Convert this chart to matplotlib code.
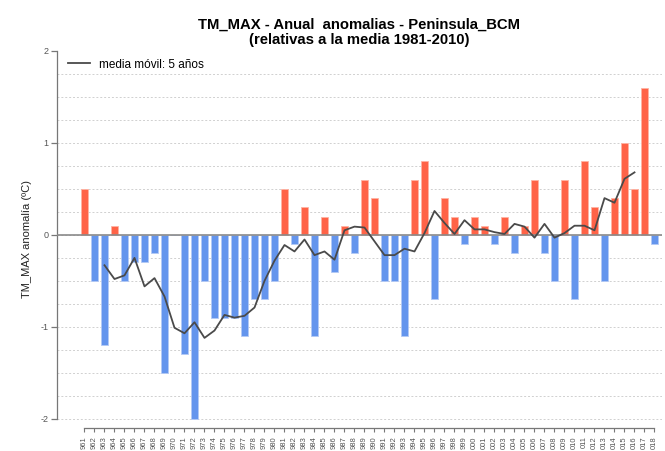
import matplotlib

matplotlib.use("Agg")
import matplotlib.pyplot as plt

# datos: anomalías anuales de TM_MAX (ºC) y media móvil de 5 años
years = list(range(1961, 2019))
anomalias = [0.5, -0.5, -1.2, 0.1, -0.5, -0.3, -0.3, -0.2, -1.5, 0.0,
             -1.3, -2.0, -0.5, -0.9, -0.9, -0.9, -1.1, -0.7, -0.7, -0.5,
             0.5, -0.1, 0.3, -1.1, 0.2, -0.4, 0.1, -0.2, 0.6, 0.4,
             -0.5, -0.5, -1.1, 0.6, 0.8, -0.7, 0.4, 0.2, -0.1, 0.2,
             0.1, -0.1, 0.2, -0.2, 0.1, 0.6, -0.2, -0.5, 0.6, -0.7,
             0.8, 0.3, -0.5, 0.4, 1.0, 0.5, 1.6, -0.1]
mm_years = list(range(1963, 2017))
media_movil = [-0.33, -0.48, -0.44, -0.25, -0.56, -0.47, -0.67, -1.01, -1.07, -0.95,
               -1.12, -1.04, -0.87, -0.90, -0.88, -0.79, -0.50, -0.28, -0.11, -0.18,
               -0.05, -0.22, -0.18, -0.27, 0.05, 0.09, 0.08, -0.07, -0.22, -0.22,
               -0.15, -0.18, 0.02, 0.26, 0.13, 0.01, 0.16, 0.06, 0.06, 0.03,
               0.01, 0.12, 0.09, -0.03, 0.12, -0.03, 0.02, 0.10, 0.10, 0.05,
               0.40, 0.35, 0.61, 0.68]
# etiquetas tal como se ven (recortadas por el borde inferior)
x_labels = [str(y)[1:] for y in years]
y_ticks = [-2, -1, 0, 1, 2]

plt.rcParams["font.family"] = ["Liberation Sans", "DejaVu Sans"]

fig = plt.figure(figsize=(6.65, 4.51), dpi=100)
ax = fig.add_axes([57 / 665, 23 / 451, 605 / 665, 377 / 451])

# rejilla punteada cada 0.25
for g in [i * 0.25 for i in range(-8, 8)]:
    ax.axhline(g, color="#d0d0d0", lw=0.7, ls=(0, (2, 2)), zorder=0)

colors = ["#ff6347" if v > 0 else "#6495ed" for v in anomalias]
edges = ["#ffb3a3" if v > 0 else "#b3c9f5" for v in anomalias]
ax.bar(years, anomalias, width=0.75, color=colors, edgecolor=edges,
       linewidth=0.6, zorder=2)
ax.axhline(0, color="#8a8a8a", lw=1.2, zorder=3)
ax.plot(mm_years, media_movil, color="#4a4a4a", lw=1.3, zorder=4,
        label="media móvil: 5 años")

ax.set_xlim(1958.25, 2018.75)
ax.set_ylim(-2.1, 2.0)

# ejes al estilo R
for side in ["top", "right"]:
    ax.spines[side].set_visible(False)
ax.spines["left"].set_bounds(-2, 2)
ax.spines["bottom"].set_bounds(1961, 2018)
for side in ["left", "bottom"]:
    ax.spines[side].set_color("#777777")
    ax.spines[side].set_linewidth(0.9)

ax.set_yticks(y_ticks)
ax.set_yticklabels([str(t) for t in y_ticks])
ax.set_xticks(years)
ax.set_xticklabels(x_labels, rotation=90)
ax.tick_params(axis="y", length=4, width=0.9, color="#777777",
               labelsize=6.5, labelcolor="#555555", pad=2)
ax.tick_params(axis="x", length=3, width=0.8, color="#777777",
               labelsize=5.5, labelcolor="#555555", pad=3)

ax.set_ylabel("TM_MAX anomalía (ºC)", fontsize=8, color="#222222", labelpad=6)
ax.set_title("TM_MAX - Anual  anomalias - Peninsula_BCM\n(relativas a la media 1981-2010)",
             fontsize=10.7, fontweight="bold", linespacing=1.1, pad=5)

ax.legend(loc="upper left", frameon=False, fontsize=8.5, handlelength=1.85,
          handletextpad=0.75, bbox_to_anchor=(0.005, 1.002), borderaxespad=0.3)

fig.savefig("out.png", dpi=100)
plt.close(fig)
